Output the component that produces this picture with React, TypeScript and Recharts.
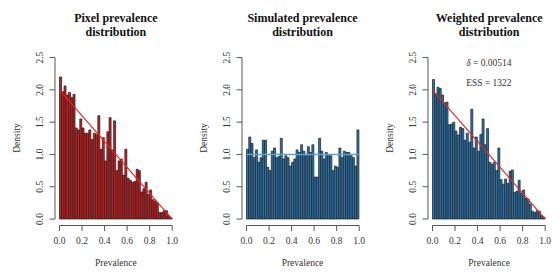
import React from 'react';
import { BarChart, Bar, XAxis, YAxis, ReferenceLine, ReferenceDot } from 'recharts';

const binMids = [
  0.01, 0.03, 0.05, 0.07, 0.09, 0.11, 0.13, 0.15, 0.17, 0.19,
  0.21, 0.23, 0.25, 0.27, 0.29, 0.31, 0.33, 0.35, 0.37, 0.39,
  0.41, 0.43, 0.45, 0.47, 0.49, 0.51, 0.53, 0.55, 0.57, 0.59,
  0.61, 0.63, 0.65, 0.67, 0.69, 0.71, 0.73, 0.75, 0.77, 0.79,
  0.81, 0.83, 0.85, 0.87, 0.89, 0.91, 0.93, 0.95, 0.97, 0.99,
];

const pixelDensity = [
  2.2, 1.97, 2.06, 1.92, 1.96, 1.88, 1.93, 1.41, 1.38, 1.55,
  1.41, 1.33, 1.33, 1.38, 1.23, 1.33, 1.31, 1.6, 1.08, 1.26,
  0.9, 1.35, 1.57, 1.07, 1.52, 0.75, 0.9, 0.93, 0.68, 1.08,
  0.63, 0.6, 0.57, 0.58, 0.77, 0.75, 0.42, 0.47, 0.57, 0.38,
  0.45, 0.3, 0.28, 0.25, 0.1, 0.1, 0.13, 0.13, 0.05, 0.02,
];

const simulatedDensity = [
  1.08, 1.27, 1.17, 0.95, 1.07, 0.88, 0.95, 1.22, 1.22, 0.8,
  0.75, 1.05, 1.1, 0.95, 0.97, 1.25, 0.93, 0.98, 0.95, 0.82,
  0.88, 0.93, 1.07, 1.03, 1.15, 1.05, 0.98, 1.12, 1.03, 1.15,
  0.65, 0.65, 1.25, 1.05, 0.93, 1.03, 0.98, 0.98, 0.75, 0.82,
  0.8, 1.1, 0.95, 1.05, 1.03, 1.03, 0.98, 0.95, 0.82, 1.38,
];

const weightedDensity = [
  2.16, 1.93, 2.04, 2.02, 1.92, 1.8, 1.81, 1.46, 1.47, 1.5,
  1.36, 1.3, 1.42, 1.4, 1.22, 1.33, 1.19, 1.7, 1.1, 1.27,
  1.05, 1.31, 1.55, 1.15, 1.4, 0.88, 0.85, 0.88, 0.75, 1.1,
  0.61, 0.54, 0.62, 0.55, 0.74, 0.76, 0.41, 0.43, 0.6, 0.4,
  0.45, 0.32, 0.31, 0.23, 0.12, 0.1, 0.13, 0.12, 0.05, 0.03,
];

const xTicks = [0, 0.2, 0.4, 0.6, 0.8, 1.0];
const yTicks = [0, 0.5, 1.0, 1.5, 2.0, 2.5];
const xDomain = [-0.04, 1.04];
const yDomain = [-0.1, 2.6];

const titles = [
  ['Pixel prevalence', 'distribution'],
  ['Simulated prevalence', 'distribution'],
  ['Weighted prevalence', 'distribution'],
];
const xLabel = 'Prevalence';
const yLabel = 'Density';

const triangleLine = [{ x: 0, y: 2 }, { x: 1, y: 0 }];
const uniformLine = [{ x: 0, y: 1 }, { x: 1, y: 1 }];
const deltaValue = '0.00514';
const essValue = '1322';
const annotationX = 0.5;
const deltaY = 2.42;
const essY = 2.11;

const table = binMids.map((mid, i) => ({
  mid,
  pixel: pixelDensity[i],
  simulated: simulatedDensity[i],
  weighted: weightedDensity[i],
}));

const FONT = "'Liberation Serif', 'Times New Roman', serif";
const PANEL_W = 560 / 3;
const PLOT_LEFT = 55;
const PLOT_W = 121.7;
const PLOT_TOP = 51.1;
const PLOT_BOTTOM = 225.5;
const AXIS_COLOR = '#555555';
const TEXT_COLOR = '#333333';

const YTick = (props: any) => {
  const { x, y, payload } = props;
  return (
    <text
      x={x}
      y={y}
      transform={`rotate(-90 ${x} ${y})`}
      textAnchor="middle"
      fontSize={9.5}
      fontFamily={FONT}
      fill={TEXT_COLOR}
    >
      {Number(payload.value).toFixed(1)}
    </text>
  );
};

const DeltaLabel = (props: any) => {
  const vb = props.viewBox || {};
  const cx = (vb.x || 0) + (vb.width || 0) / 2;
  const cy = (vb.y || 0) + (vb.height || 0) / 2;
  return (
    <text x={cx} y={cy} dy="0.35em" textAnchor="middle" fontSize={9.5} fontFamily={FONT} fill={TEXT_COLOR}>
      <tspan fontStyle="italic">δ</tspan>
      {` = ${deltaValue}`}
    </text>
  );
};

const EssLabel = (props: any) => {
  const vb = props.viewBox || {};
  const cx = (vb.x || 0) + (vb.width || 0) / 2;
  const cy = (vb.y || 0) + (vb.height || 0) / 2;
  return (
    <text x={cx} y={cy} dy="0.35em" textAnchor="middle" fontSize={9.5} fontFamily={FONT} fill={TEXT_COLOR}>
      {`ESS = ${essValue}`}
    </text>
  );
};

type PanelProps = {
  index: number;
  dataKey: string;
  fill: string;
  line: { x: number; y: number }[];
  lineColor: string;
  lineWidth: number;
  annotate?: boolean;
};

function Panel({ index, dataKey, fill, line, lineColor, lineWidth, annotate }: PanelProps) {
  const left = index * PANEL_W;
  const centerX = PLOT_LEFT + PLOT_W / 2;
  return (
    <div style={{ position: 'absolute', left, top: 0, width: PANEL_W, height: 280 }}>
      <BarChart
        width={PANEL_W}
        height={280}
        data={table}
        margin={{ top: PLOT_TOP, right: PANEL_W - PLOT_LEFT - PLOT_W, bottom: 0, left: 0 }}
        barCategoryGap={0}
        barGap={0}
      >
        <XAxis
          xAxisId="x"
          type="number"
          dataKey="mid"
          domain={xDomain}
          ticks={xTicks}
          interval={0}
          allowDataOverflow
          axisLine={false}
          tickLine={{ stroke: AXIS_COLOR }}
          tickSize={5.5}
          tickMargin={6}
          height={280 - PLOT_BOTTOM}
          tickFormatter={(v: number) => v.toFixed(1)}
          tick={{ fontSize: 9.5, fontFamily: FONT, fill: TEXT_COLOR }}
        />
        <YAxis
          yAxisId="y"
          type="number"
          domain={yDomain}
          ticks={yTicks}
          interval={0}
          allowDataOverflow
          axisLine={false}
          tickLine={{ stroke: AXIS_COLOR }}
          tickSize={5.5}
          tickMargin={6.5}
          width={PLOT_LEFT}
          tick={YTick}
        />
        <Bar
          xAxisId="x"
          yAxisId="y"
          dataKey={dataKey}
          fill={fill}
          stroke="#1a1a1a"
          strokeWidth={0.7}
          isAnimationActive={false}
        />
        <ReferenceLine
          xAxisId="x"
          yAxisId="y"
          segment={[{ x: xTicks[0], y: yDomain[0] }, { x: xTicks[xTicks.length - 1], y: yDomain[0] }]}
          stroke={AXIS_COLOR}
          strokeWidth={1}
          ifOverflow="visible"
        />
        <ReferenceLine
          xAxisId="x"
          yAxisId="y"
          segment={[{ x: xDomain[0], y: yTicks[0] }, { x: xDomain[0], y: yTicks[yTicks.length - 1] }]}
          stroke={AXIS_COLOR}
          strokeWidth={1}
          ifOverflow="visible"
        />
        <ReferenceLine
          xAxisId="x"
          yAxisId="y"
          segment={line}
          stroke={lineColor}
          strokeWidth={lineWidth}
          ifOverflow="visible"
        />
        {annotate && (
          <ReferenceDot
            xAxisId="x"
            yAxisId="y"
            x={annotationX}
            y={deltaY}
            r={0}
            fill="none"
            stroke="none"
            ifOverflow="visible"
            label={<DeltaLabel />}
          />
        )}
        {annotate && (
          <ReferenceDot
            xAxisId="x"
            yAxisId="y"
            x={annotationX}
            y={essY}
            r={0}
            fill="none"
            stroke="none"
            ifOverflow="visible"
            label={<EssLabel />}
          />
        )}
      </BarChart>
      <div
        style={{
          position: 'absolute',
          left: centerX - 90,
          width: 180,
          top: 11,
          textAlign: 'center',
          fontFamily: FONT,
          fontWeight: 'bold',
          fontSize: 12,
          lineHeight: '14px',
          color: '#111',
          pointerEvents: 'none',
        }}
      >
        <div>{titles[index][0]}</div>
        <div>{titles[index][1]}</div>
      </div>
      <div
        style={{
          position: 'absolute',
          left: centerX - 60,
          width: 120,
          top: 256,
          textAlign: 'center',
          fontFamily: FONT,
          fontSize: 9.5,
          lineHeight: '14px',
          color: TEXT_COLOR,
        }}
      >
        {xLabel}
      </div>
      <div
        style={{
          position: 'absolute',
          left: 17 - 30,
          width: 60,
          top: (PLOT_TOP + PLOT_BOTTOM) / 2 - 7,
          textAlign: 'center',
          fontFamily: FONT,
          fontSize: 9.5,
          lineHeight: '14px',
          color: TEXT_COLOR,
          transform: 'rotate(-90deg)',
        }}
      >
        {yLabel}
      </div>
    </div>
  );
}

export default function App() {
  return (
    <div style={{ position: 'absolute', left: 0, top: 0, width: 560, height: 280, background: '#fff', overflow: 'hidden' }}>
      <Panel index={0} dataKey="pixel" fill="#d7191c" line={triangleLine} lineColor="#e3262a" lineWidth={1.2} />
      <Panel index={1} dataKey="simulated" fill="#2878b5" line={uniformLine} lineColor="#5b9fd4" lineWidth={1.5} />
      <Panel index={2} dataKey="weighted" fill="#2878b5" line={triangleLine} lineColor="#e3262a" lineWidth={1.2} annotate />
    </div>
  );
}
